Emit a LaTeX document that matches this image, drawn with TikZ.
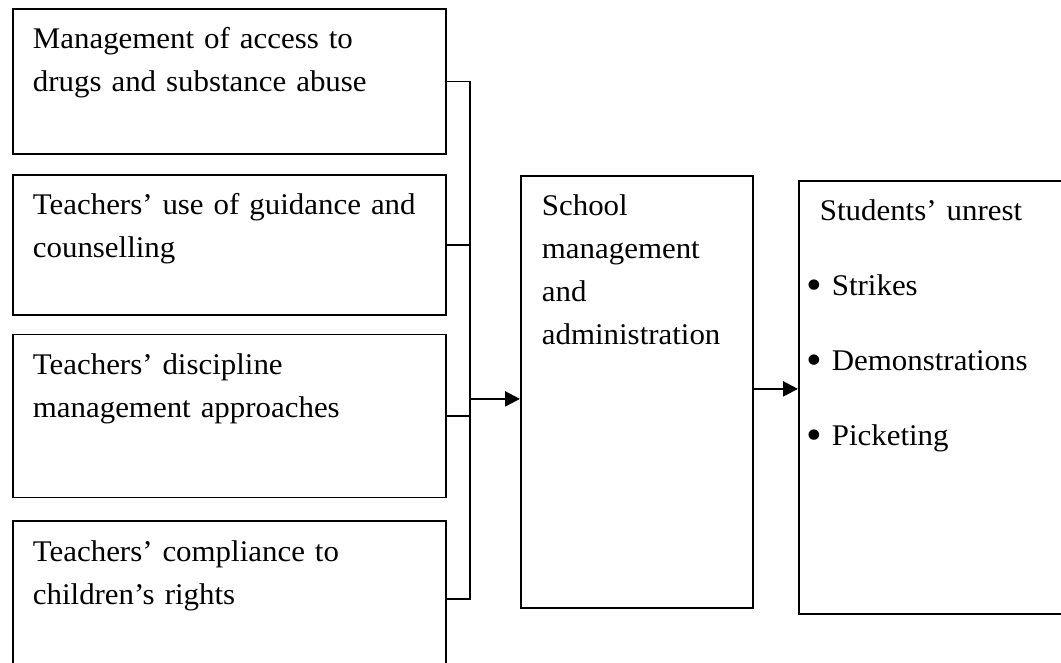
\documentclass[tikz,border=0pt]{standalone}
\usepackage{fontspec}
\setmainfont{Liberation Serif}[FakeStretch=1.03]
\usepackage{tikz}
\usetikzlibrary{arrows.meta,positioning}

\newcommand{\unrestitem}[1]{\\[32pt]\hspace*{12pt}\llap{\raisebox{-4pt}{\scalebox{1.45}{\textbullet}}\hspace{10pt}}#1}

\begin{document}
\begin{tikzpicture}[x=1pt,y=1pt,>={Triangle[length=15pt,width=15pt]},
  box line/.style={line width=1.8pt},
  factor/.style={draw,box line,text width=393pt,inner xsep=20pt,inner ysep=0pt,
    align=left,text height=40pt,text depth=#1,font=\fontsize{30pt}{43pt}\selectfont},
  big box/.style={draw,box line,inner xsep=21pt,inner ysep=0pt,align=left,
    text height=40pt,font=\fontsize{30pt}{43pt}\selectfont},
  link/.style={line width=1.8pt},
  feed/.style={->,line width=2.4pt}]
  \useasboundingbox (0,0) rectangle (1061,-662);
  \clip (0,0) rectangle (1061,-662);

  % the four factors on the left
  \node[factor=105pt,anchor=north west] (f1) at (12,-8)
    {Management of access to\\drugs and substance abuse};
  \node[factor=100pt] (f2) [below=19pt of f1]
    {Teachers’ use of guidance and\\counselling};
  \node[factor=123pt] (f3) [below=18pt of f2]
    {Teachers’ discipline\\management approaches};
  \node[factor=116pt] (f4) [below=22pt of f3]
    {Teachers’ compliance to\\children’s rights};

  % middle and right boxes
  \node[big box,anchor=north west,text width=190pt,text depth=392pt] (mgmt) at (520,-175)
    {School\\management\\and\\administration};
  \node[big box,anchor=north west,text width=260pt,text depth=393pt] (unrest) at (798,-180)
    {Students’ unrest\unrestitem{Strikes}\unrestitem{Demonstrations}\unrestitem{Picketing}};

  % bus joining the factors
  \coordinate (bus) at (470,0);
  \draw[link] (f1.east) -- (f1.east -| bus) -- (f4.east -| bus) -- (f4.east);
  \draw[link] (f2.east) -- (f2.east -| bus);
  \draw[link] (f3.east) -- (f3.east -| bus);

  \draw[feed] ([yshift=-7pt]mgmt.west -| bus) -- ([yshift=-7pt]mgmt.west);
  \draw[feed] ([yshift=3pt]mgmt.east) -- ([yshift=3pt]mgmt.east -| unrest.west);
\end{tikzpicture}
\end{document}
